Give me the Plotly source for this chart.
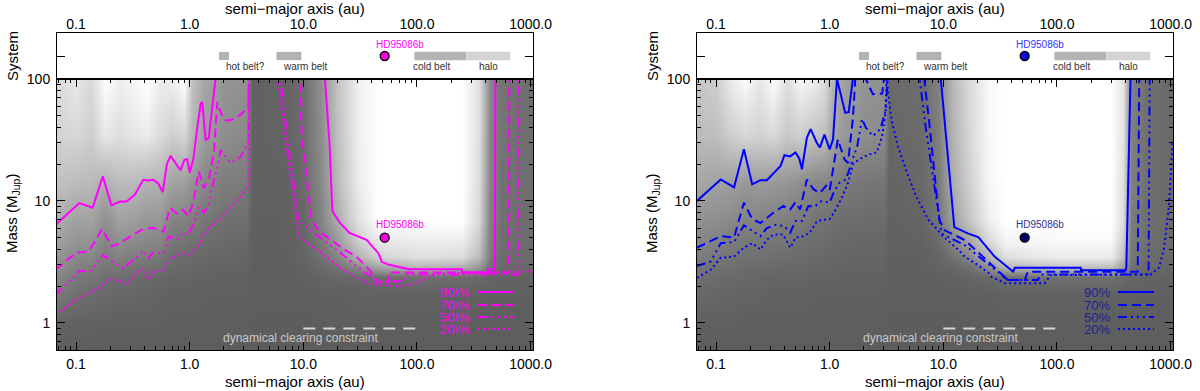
import math
import plotly.graph_objects as go

# ---- detection maps: grey level 0 (dark) .. 100 (white), one list per column, bottom -> top
MASS_ROWS = [0.6, 1.0, 1.8, 2.4, 2.9, 3.5, 4.6, 7.0, 14, 35, 100]

LEFT_COLS = [0.067, 0.1, 0.135, 0.18, 0.24, 0.32, 0.42, 0.55, 0.7, 0.9, 1.05, 1.35, 2.0, 3.1,
             3.5, 7.0, 10, 14, 20, 30, 45, 100, 250, 350, 440, 550, 1000]
LEFT_MAP = [
    [0, 5, 19, 26, 31, 35, 41, 50, 62, 72, 78],
    [0, 3, 12, 17, 22, 27, 34, 42, 58, 75, 86],
    [0, 3, 10, 15, 20, 26, 33, 43, 57, 70, 76],
    [0, 2, 8, 12, 15, 19, 24, 31, 50, 85, 100],
    [0, 2, 7, 10, 17, 23, 31, 42, 58, 80, 90],
    [0, 2, 6, 9, 14, 20, 28, 40, 57, 84, 95],
    [0, 2, 5, 9, 13, 19, 26, 36, 52, 88, 100],
    [0, 2, 4, 7, 11, 16, 24, 35, 52, 78, 88],
    [0, 1, 3, 5, 8, 10, 15, 24, 42, 70, 90],
    [0, 1, 3, 5, 7, 9, 14, 23, 40, 75, 100],
    [0, 1, 3, 4, 6, 8, 12, 20, 34, 55, 62],
    [0, 1, 2, 3, 5, 7, 10, 16, 26, 40, 45],
    [0, 1, 2, 3, 4, 6, 8, 12, 20, 30, 34],
    [0, 1, 2, 3, 4, 5, 7, 11, 18, 28, 32],
    [0, 0, 1, 1, 1, 2, 2, 2, 3, 3, 3],
    [0, 0, 1, 1, 1, 2, 2, 2, 3, 4, 4],
    [0, 0, 1, 2, 3, 4, 5, 6, 8, 9, 10],
    [0, 0, 2, 4, 8, 12, 17, 22, 26, 28, 30],
    [0, 1, 2, 6, 14, 25, 38, 50, 58, 62, 64],
    [0, 1, 3, 8, 28, 52, 68, 82, 88, 90, 90],
    [0, 1, 3, 10, 45, 72, 85, 100, 100, 100, 100],
    [0, 1, 3, 12, 55, 80, 88, 100, 100, 100, 100],
    [0, 1, 3, 10, 50, 78, 88, 100, 100, 100, 100],
    [0, 1, 3, 8, 35, 58, 66, 75, 78, 80, 80],
    [0, 1, 2, 5, 12, 18, 20, 22, 24, 25, 25],
    [0, 1, 2, 4, 8, 10, 11, 12, 13, 14, 14],
    [0, 1, 2, 3, 6, 8, 9, 10, 10, 10, 10],
]

RIGHT_COLS = [0.068, 0.1, 0.135, 0.18, 0.24, 0.32, 0.42, 0.55, 0.7, 0.9, 1.05, 1.35, 2.0, 3.0,
              3.35, 6.5, 9, 12, 17, 25, 35, 100, 300, 380, 450, 600, 1000]
RIGHT_MAP = [
    [0, 2, 7, 12, 15, 19, 25, 32, 45, 58, 65],
    [0, 2, 6, 9, 12, 16, 22, 30, 42, 60, 70],
    [0, 2, 5, 8, 11, 14, 19, 27, 40, 70, 88],
    [0, 1, 4, 7, 9, 12, 16, 24, 36, 75, 98],
    [0, 1, 4, 6, 9, 12, 16, 24, 38, 72, 85],
    [0, 1, 3, 5, 8, 11, 15, 22, 36, 76, 98],
    [0, 1, 3, 5, 7, 10, 14, 20, 34, 66, 80],
    [0, 1, 3, 5, 7, 9, 12, 18, 30, 70, 95],
    [0, 1, 2, 4, 6, 8, 10, 15, 26, 64, 90],
    [0, 1, 2, 4, 5, 7, 9, 13, 24, 60, 80],
    [0, 1, 2, 3, 5, 6, 8, 12, 22, 46, 55],
    [0, 1, 2, 3, 4, 5, 7, 10, 18, 36, 42],
    [0, 1, 2, 3, 4, 5, 6, 9, 16, 30, 34],
    [0, 1, 2, 3, 4, 5, 6, 9, 15, 28, 32],
    [0, 0, 1, 1, 1, 2, 2, 3, 4, 6, 8],
    [0, 0, 1, 1, 2, 2, 3, 5, 7, 9, 10],
    [0, 0, 1, 2, 3, 5, 8, 14, 18, 20, 22],
    [0, 0, 1, 3, 6, 12, 24, 40, 48, 52, 55],
    [0, 0, 2, 5, 12, 26, 45, 65, 72, 76, 78],
    [0, 1, 2, 8, 30, 55, 75, 90, 95, 96, 96],
    [0, 1, 3, 12, 55, 80, 92, 100, 100, 100, 100],
    [0, 1, 3, 12, 62, 88, 96, 100, 100, 100, 100],
    [0, 1, 3, 12, 60, 88, 96, 100, 100, 100, 100],
    [0, 1, 3, 8, 40, 60, 70, 78, 80, 82, 82],
    [0, 1, 2, 5, 12, 16, 18, 20, 22, 22, 22],
    [0, 1, 2, 4, 8, 10, 11, 12, 12, 12, 12],
    [0, 1, 2, 3, 6, 7, 8, 8, 8, 8, 8],
]

# ---- probability contours (semi-major axis au, mass MJup); they run along the top edge (100)
L90_A = [0.066, 0.107, 0.14, 0.172, 0.205, 0.243, 0.278, 0.33, 0.39, 0.43, 0.48, 0.53, 0.58, 0.63,
         0.68, 0.83, 0.90, 0.95, 1.0, 1.08, 1.16, 1.25, 1.29, 1.38, 1.47, 1.69,
         15.5, 17.0, 18.0, 21, 25.5, 36, 45.8, 49, 56, 85, 248, 250, 418, 420, 485, 490, 1070]
L90_M = [6.4, 9.6, 8.8, 15.9, 9.2, 9.9, 9.9, 11.3, 14.9, 14.7, 14.9, 13.9, 11.8, 20.1,
         23.5, 17.8, 21.8, 22, 17, 22.2, 38.5, 63, 65, 31.8, 32.7, 100,
         100, 30, 8.3, 6.6, 5.47, 4.8, 3.73, 3.17, 3.01, 2.76, 2.76, 2.59, 2.59, 2.76, 2.76, 100, 100]
L70_A = [0.066, 0.1, 0.13, 0.17, 0.205, 0.243, 0.32, 0.39, 0.48, 0.59, 0.67, 0.77, 0.87, 0.98,
         1.08, 1.2, 1.33, 1.47, 1.64, 1.75, 1.8, 2.0, 2.3, 2.8, 3.3, 3.32,
         9.3, 9.7, 11.8, 13.7, 22, 29.3, 38.5, 44, 56, 56.5, 640, 650, 1070]
L70_M = [2.74, 3.75, 3.87, 5.9, 4.25, 4.5, 5.3, 5.9, 6.0, 5.6, 8.8, 7.9, 8.5, 7.5,
         9.9, 17.5, 12.8, 14.9, 25.5, 65, 59, 46, 46, 51, 59, 100,
         100, 34, 7.0, 5.66, 4.1, 3.5, 2.7, 2.16, 2.16, 2.59, 2.59, 100, 100]
L50_A = [0.066, 0.107, 0.136, 0.172, 0.22, 0.26, 0.32, 0.39, 0.43, 0.48, 0.59, 0.65, 0.8, 0.87,
         0.98, 1.12, 1.2, 1.33, 1.47, 1.64, 1.72, 1.87, 2.3, 2.8, 3.3, 3.32,
         6.3, 7.3, 8.4, 9.0, 13.7, 20.7, 27.3, 36, 47, 76, 80, 780, 790, 1070]
L50_M = [1.71, 2.65, 2.68, 3.6, 3.1, 2.8, 3.3, 3.9, 3.4, 3.8, 3.75, 5.1, 4.9, 5.5,
         5.3, 7.2, 8.9, 8.0, 9.3, 15.4, 17.5, 26, 20.5, 23, 30.7, 100,
         100, 30, 12, 6.85, 5.1, 3.85, 3.07, 2.54, 2.2, 2.2, 2.5, 2.5, 100, 100]
L20_A = [0.066, 0.1, 0.16, 0.2, 0.24, 0.28, 0.34, 0.39, 0.43, 0.48, 0.59, 0.67, 0.77, 0.87,
         0.98, 1.16, 1.33, 1.53, 1.87, 2.3, 2.8, 3.3, 3.32,
         6.0, 7.0, 8.4, 9.0, 9.7, 13.6, 20.4, 28.6, 40, 69, 96, 126, 155, 1070]
L20_M = [1.17, 1.55, 1.94, 2.27, 2.24, 2.06, 2.57, 2.77, 2.27, 2.65, 2.68, 3.4, 3.5, 3.75,
         3.6, 4.1, 5.3, 6.2, 7.2, 9.0, 10.9, 13.6, 100,
         100, 30, 9.6, 5.6, 4.8, 3.9, 2.9, 2.4, 2.06, 2.0, 2.1, 2.4, 2.55, 2.65]

R90_A = [0.068, 0.11, 0.144, 0.176, 0.208, 0.246, 0.28, 0.32, 0.37, 0.40, 0.45, 0.50, 0.54, 0.57,
         0.63, 0.68, 0.77, 0.82, 0.90, 1.0, 1.07, 1.16, 1.37, 1.47, 1.6,
         9.5, 11.4, 12.5, 16.6, 20.3, 28.4, 41.2, 42.6, 162, 163, 403, 408, 444, 1070]
R90_M = [10, 15, 12.9, 26.6, 13.7, 14.8, 14.8, 16.9, 19.4, 23.7, 23.2, 25, 22.3, 18.2,
         33, 38.8, 30, 27.4, 35, 26.5, 32, 100, 53, 53.5, 100,
         100, 14.8, 6.1, 5.4, 5.06, 3.48, 2.63, 2.84, 2.84, 2.7, 2.7, 2.9, 100, 100]
R70_A = [0.068, 0.11, 0.144, 0.176, 0.208, 0.246, 0.32, 0.39, 0.45, 0.50, 0.55, 0.63, 0.72, 0.82,
         0.93, 1.0, 1.18, 1.35, 1.45, 1.6, 1.68, 2.08, 2.4, 2.9, 3.0,
         6.8, 7.6, 8.4, 9.2, 10.3, 15.5, 23.2, 32.5, 37, 52, 55.5, 514, 530, 1070]
R70_M = [4.14, 5.15, 5.0, 9.7, 7.1, 6.6, 8.0, 9.1, 8.5, 9.8, 8.5, 15, 12.5, 11.6,
         13.3, 12.2, 32, 22, 20.5, 47, 100, 100, 75, 76, 100,
         100, 40, 15, 7.0, 5.75, 4.77, 3.37, 2.55, 2.25, 2.25, 2.63, 2.63, 100, 100]
R50_A = [0.068, 0.09, 0.11, 0.144, 0.176, 0.208, 0.246, 0.28, 0.34, 0.40, 0.45, 0.50, 0.57, 0.65,
         0.74, 0.85, 1.0, 1.1, 1.22, 1.39, 1.55, 1.75, 1.93, 2.08, 2.4, 2.8, 3.1, 3.25,
         6.2, 7.0, 8.2, 9.3, 9.7, 15.5, 26.5, 37, 68, 72, 640, 655, 1070]
R50_M = [2.92, 3.2, 4.5, 4.6, 6.3, 5.7, 5.15, 6.0, 6.4, 6.2, 5.5, 6.85, 6.85, 9.1,
         9.0, 10, 9.7, 12.1, 14.1, 15, 20, 28.3, 47, 40, 34, 39, 55, 100,
         100, 40, 14.8, 6.95, 5.4, 4.33, 2.89, 2.25, 2.25, 2.5, 2.5, 100, 100]
R20_A = [0.068, 0.09, 0.11, 0.144, 0.176, 0.208, 0.246, 0.28, 0.32, 0.39, 0.45, 0.50, 0.59, 0.67,
         0.77, 0.87, 1.0, 1.07, 1.22, 1.44, 1.6, 1.83, 2.2, 2.6, 2.9, 3.1, 3.16,
         3.5, 4.0, 4.7, 5.8, 7.4, 9.0, 9.6, 13.5, 15.5, 19, 25, 26.5, 34.8, 78, 88, 108,
         668, 795, 880, 970, 1040]
R20_M = [2.34, 2.74, 3.42, 3.5, 4.14, 4.5, 4.0, 4.8, 5.3, 5.3, 4.14, 5.0, 5.15, 5.5,
         6.8, 7.0, 7.1, 7.8, 9.7, 13.7, 20, 22, 24, 25, 34, 53, 100,
         46, 27.8, 17.9, 10.8, 7.0, 5.75, 5.3, 4.0, 3.48, 3.1, 2.57, 2.39, 2.12, 2.12, 2.47, 2.47,
         2.5, 2.85, 4.2, 9.4, 30]

LEFT_LEVELS = ['90\\%', '70\\%', '50\\%', '20\\%']
RIGHT_LEVELS = ['90%', '70%', '50%', '20%']

# ---- system strip
PLANET_NAME = 'HD95086b'
PLANET_A = 52
PLANET_M = 5.0
BELT_NAMES = ['hot belt?', 'warm belt', 'cold belt', 'halo']
BELT_START = [1.81, 5.8, 95, 272]
BELT_END = [2.22, 9.6, 272, 660]

CLEAR_A = [10, 100]
CLEAR_M = [0.9, 0.9]

FONT = 'Liberation Sans, Arial, sans-serif'
W, H = 1200, 391
X_RANGE = [math.log10(0.068), math.log10(1050)]
Y_RANGE = [math.log10(0.6), 2]
MAIN_DOM = [1 - 350 / H, 1 - 79 / H]
STRIP_DOM = [1 - 79 / H, 1 - 33 / H]
DASHES = ['solid', '9px,5px', '9px,4px,2px,4px,2px,4px,2px,4px', '2px,3px']
BELT_FILL = ['#b4b4b4', '#b2b2b2', '#b4b4b4', '#d4d4d4']

lg = math.log10

fig = go.Figure()


def note(text, x, y, size, color='black', angle=0, xanchor='center'):
    # text placed in page pixels (from the top-left corner)
    fig.add_annotation(x=x / W, y=1 - y / H, xref='paper', yref='paper', text=text,
                       showarrow=False, xanchor=xanchor, yanchor='middle', textangle=angle,
                       font=dict(family=FONT, size=size, color=color))


def add_panel(k, x0, cols, grid, contours, line_col, legend_col, levels,
              mk_main, mk_strip, lab_main, lab_strip):
    xm, ym = ('x', 'y') if k == 1 else (f'x{k}', f'y{k}')
    xs, ys = f'x{k + 1}', f'y{k + 1}'
    sfx = '' if k == 1 else str(k)
    dom = [x0 / W, (x0 + 476) / W]

    z = [[grid[c][r] for c in range(len(cols))] for r in range(len(MASS_ROWS))]
    fig.add_trace(go.Heatmap(
        x=cols, y=MASS_ROWS, z=z, xaxis=xm, yaxis=ym,
        colorscale=[[0, '#5d5d5d'], [1, '#ffffff']], zmin=0, zmax=100,
        zsmooth='best', showscale=False, hoverinfo='skip'
    ))
    for (ax, mm), dash in zip(contours, DASHES):
        fig.add_trace(go.Scatter(
            x=ax, y=mm, xaxis=xm, yaxis=ym, mode='lines',
            line=dict(color=line_col, width=2, dash=dash), showlegend=False
        ))
    # dynamical clearing constraint
    fig.add_trace(go.Scatter(
        x=CLEAR_A, y=CLEAR_M, xaxis=xm, yaxis=ym, mode='lines',
        line=dict(color='#d6d6d6', width=2, dash='12px,8px'), showlegend=False
    ))
    fig.add_annotation(x=lg(9.4), y=lg(0.75), xref=xm, yref=ym, text='dynamical clearing constraint',
                       showarrow=False, xanchor='center', yanchor='middle',
                       font=dict(family=FONT, size=12, color='#c8c8c8'))
    # planet
    fig.add_trace(go.Scatter(
        x=[PLANET_A], y=[PLANET_M], xaxis=xm, yaxis=ym, mode='markers',
        marker=dict(color=mk_main, size=9, line=dict(color='black', width=1.3)), showlegend=False
    ))
    fig.add_annotation(x=lg(PLANET_A), y=lg(PLANET_M), xref=xm, yref=ym, text=PLANET_NAME,
                       showarrow=False, xshift=15, yshift=13, xanchor='center', yanchor='middle',
                       font=dict(family=FONT, size=10, color=lab_main))
    fig.add_trace(go.Scatter(
        x=[PLANET_A], y=[0.5], xaxis=xs, yaxis=ys, mode='markers',
        marker=dict(color=mk_strip, size=9, line=dict(color='black', width=1.3)), showlegend=False
    ))
    fig.add_annotation(x=lg(PLANET_A), y=0.76, xref=xs, yref=ys, text=PLANET_NAME,
                       showarrow=False, xshift=15, xanchor='center', yanchor='middle',
                       font=dict(family=FONT, size=10, color=lab_strip))
    # belts
    for name, b0, b1, fill in zip(BELT_NAMES, BELT_START, BELT_END, BELT_FILL):
        fig.add_shape(type='rect', xref=xs, yref=ys, x0=b0, x1=b1, y0=0.41, y1=0.59,
                      fillcolor=fill, line=dict(width=0), layer='below')
    for name, b0, b1 in zip(BELT_NAMES, BELT_START, BELT_END):
        if name == 'halo':
            fig.add_annotation(x=(lg(b0) + lg(b1)) / 2, y=0.27, xref=xs, yref=ys, text=name,
                               showarrow=False, xanchor='center', yanchor='middle',
                               font=dict(family=FONT, size=10, color='#333333'))
        else:
            fig.add_annotation(x=lg(b0), y=0.27, xref=xs, yref=ys, text=name, showarrow=False,
                               xanchor='left', yanchor='middle',
                               xshift=-3 if name == 'cold belt' else 5,
                               font=dict(family=FONT, size=10, color='#333333'))
    # legend
    for i, (lab, dash) in enumerate(zip(levels, DASHES)):
        ypx = [292, 305, 317, 329][i]
        note(lab, x0 + 415, ypx, 13, legend_col, xanchor='right')
        fig.add_shape(type='line', xref='paper', yref='paper', x0=(x0 + 421) / W,
                      x1=(x0 + 457) / W, y0=1 - ypx / H, y1=1 - ypx / H,
                      line=dict(color=line_col, width=2, dash=dash))
    # titles
    note('semi\u2212major axis (au)', x0 + 238, 9, 15)
    note('semi\u2212major axis (au)', x0 + 238, 381, 15)
    note('System', x0 - 45, 56, 15, angle=-90)
    note('Mass (M<sub>Jup</sub>)', x0 - 45, 214, 15, angle=-90)

    tick = dict(family=FONT, size=14, color='black')
    fig.layout['xaxis' + sfx] = dict(
        type='log', range=X_RANGE, domain=dom, anchor=ym, dtick=1, tickformat='.1f',
        ticks='inside', ticklen=8, tickcolor='black', mirror='allticks', showline=True,
        linecolor='black', linewidth=1, showgrid=False, zeroline=False, tickfont=tick,
        ticklabelstandoff=1, automargin=False,
        minor=dict(ticks='inside', ticklen=4, dtick='D1', tickcolor='black', showgrid=False)
    )
    fig.layout['yaxis' + sfx] = dict(
        type='log', range=Y_RANGE, domain=MAIN_DOM, anchor=xm, dtick=1, tickformat='.0f',
        ticks='inside', ticklen=8, tickcolor='black', mirror='allticks', showline=True,
        linecolor='black', linewidth=1, showgrid=False, zeroline=False, tickfont=tick,
        ticklabelstandoff=3, automargin=False,
        minor=dict(ticks='inside', ticklen=4, dtick='D1', tickcolor='black', showgrid=False)
    )
    fig.layout[f'xaxis{k + 1}'] = dict(
        type='log', range=X_RANGE, domain=dom, anchor=ys, side='top', dtick=1, tickformat='.1f',
        ticks='', showline=True, mirror=True, linecolor='black', linewidth=1,
        showgrid=False, zeroline=False, tickfont=tick, ticklabelstandoff=-3, automargin=False
    )
    fig.layout[f'yaxis{k + 1}'] = dict(
        range=[0, 1], domain=STRIP_DOM, anchor=xs, tickvals=[0.5], ticks='inside', ticklen=8,
        tickcolor='black', showticklabels=False, showline=True, mirror='ticks',
        linecolor='black', linewidth=1, showgrid=False, zeroline=False, automargin=False
    )


add_panel(1, 57, LEFT_COLS, LEFT_MAP,
          [(L90_A, L90_M), (L70_A, L70_M), (L50_A, L50_M), (L20_A, L20_M)],
          '#ff00ff', '#ff00ff', LEFT_LEVELS, '#f000e0', '#f000e0', '#ff00ff', '#ff00ff')
add_panel(3, 697, RIGHT_COLS, RIGHT_MAP,
          [(R90_A, R90_M), (R70_A, R70_M), (R50_A, R50_M), (R20_A, R20_M)],
          '#0000ff', '#1e1e96', RIGHT_LEVELS, '#000060', '#0000e0', '#303098', '#3333ff')

fig.update_layout(
    width=W, height=H, margin=dict(l=0, r=0, t=0, b=0),
    paper_bgcolor='white', plot_bgcolor='white', showlegend=False, hovermode=False,
    font=dict(family=FONT, color='black')
)

# the page body has a default 8px margin; remove it so the figure sits at the window corner
fig.write_html('out.html', config={'displayModeBar': False},
               post_script="document.body.style.margin = '0';")
